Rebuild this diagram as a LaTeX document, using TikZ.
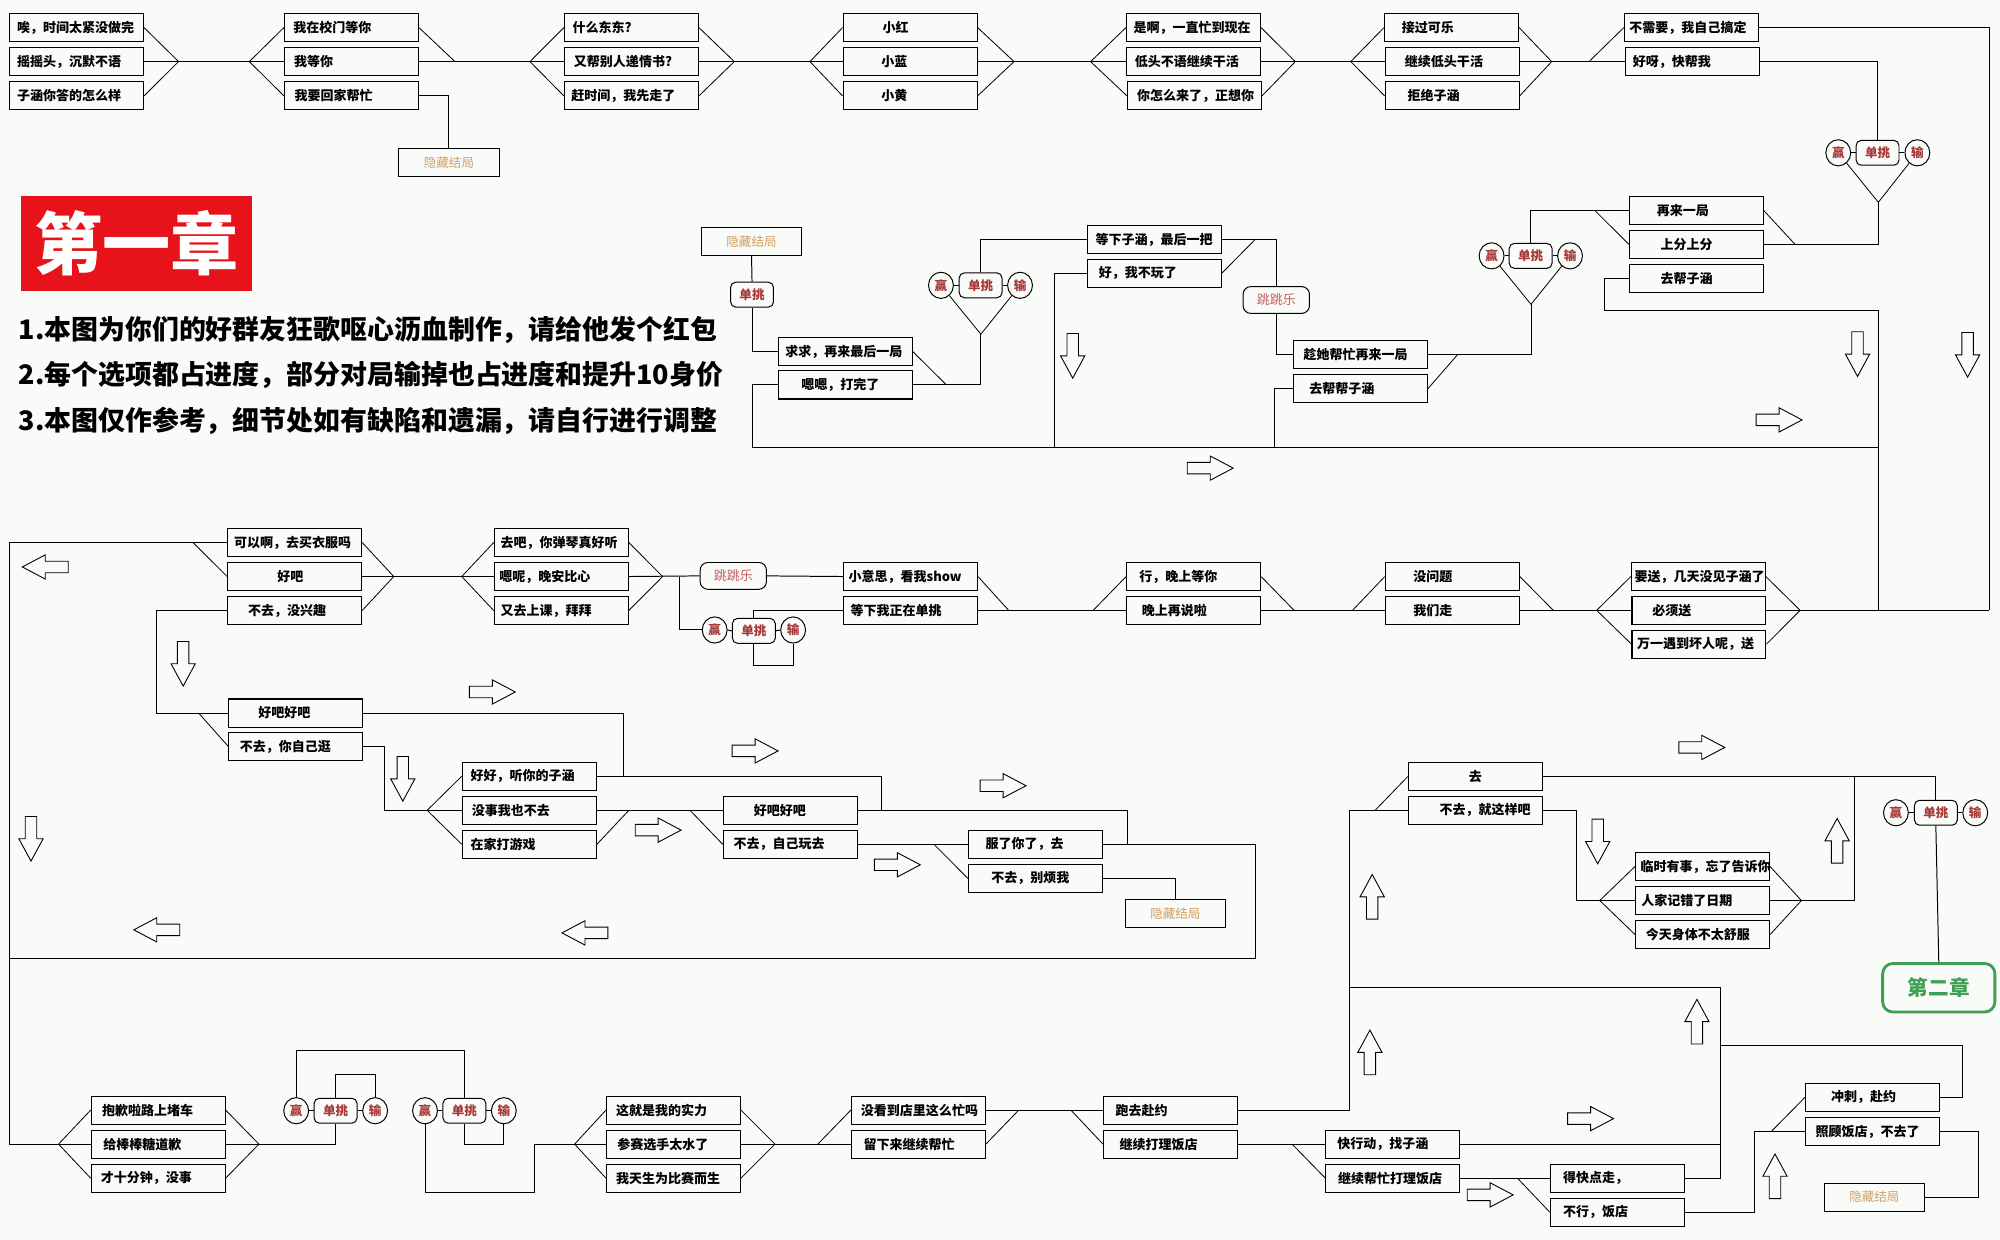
\documentclass[tikz,border=0pt]{standalone}
\usepackage{fontspec}
\newfontfamily\zh{Noto Sans CJK SC}
\newlength\ux \setlength\ux{0.025cm}
\newlength\bw \setlength\bw{105\ux}
\newcommand\ob[2]{\makebox[\bw][l]{\hspace*{#1\ux}#2}}
\newcommand\oc[1]{\makebox[\bw][c]{#1}}
\definecolor{bg}{HTML}{F8FBF8}
\definecolor{hidc}{HTML}{D4A062}
\definecolor{dtc}{HTML}{A83838}
\definecolor{jpc}{HTML}{C85C5C}
\definecolor{titred}{HTML}{E8121B}
\definecolor{grn}{HTML}{3FA055}
\tikzset{
  ln/.style={line width=0.55pt, black},
  fn/.style={line width=0.45pt, black},
  opt/.style={draw, line width=0.6pt, inner sep=0pt, minimum height=22\ux, fill=bg, font=\zh\bfseries\fontsize{7.25}{8}\selectfont},
  hid/.style={draw, line width=0.6pt, inner sep=0pt, minimum height=22\ux, minimum width=78.5\ux, fill=bg, text=hidc, font=\zh\fontsize{7}{8}\selectfont},
  dt/.style={draw, line width=0.55pt, rounded corners=4\ux, inner sep=0pt, minimum width=33.6\ux, minimum height=19.5\ux, fill=bg, text=dtc, font=\zh\bfseries\fontsize{7}{8}\selectfont},
  wl/.style={draw, line width=0.55pt, ellipse, inner sep=0pt, minimum width=19.5\ux, minimum height=20.5\ux, fill=bg, text=dtc, font=\zh\bfseries\fontsize{7}{8}\selectfont},
  jp/.style={draw, line width=0.55pt, rounded corners=6\ux, inner sep=0pt, minimum width=52\ux, minimum height=21\ux, fill=bg, text=jpc, font=\zh\fontsize{7.25}{8}\selectfont},
  chtwo/.style={draw=grn, line width=1.6pt, rounded corners=8\ux, minimum width=88\ux, minimum height=38\ux, inner sep=0pt, text=grn, fill=bg, font=\zh\bfseries\fontsize{11.5}{13}\selectfont},
  ins/.style={anchor=west, inner sep=0pt, font=\zh\bfseries\fontsize{15}{18}\selectfont},
  blk/.style={draw, line width=0.5pt, fill=bg},
  rarr/.pic={\path[blk] (-18,-4.5) -- (0,-4.5) -- (0,-9.5) -- (18,0) -- (0,9.5) -- (0,4.5) -- (-18,4.5) -- cycle;},
  larr/.pic={\path[blk] (18,-4.5) -- (0,-4.5) -- (0,-9.5) -- (-18,0) -- (0,9.5) -- (0,4.5) -- (18,4.5) -- cycle;},
  darr/.pic={\path[blk] (-4.5,-17.5) -- (-4.5,0) -- (-9.5,0) -- (0,17.5) -- (9.5,0) -- (4.5,0) -- (4.5,-17.5) -- cycle;},
  uarr/.pic={\path[blk] (-4.5,17.5) -- (-4.5,0) -- (-9.5,0) -- (0,-17.5) -- (9.5,0) -- (4.5,0) -- (4.5,17.5) -- cycle;}
}
\usetikzlibrary{shapes.geometric}
\begin{document}
\begin{tikzpicture}[x=0.025cm, y=-0.025cm]
\useasboundingbox (0,0) rectangle (1568,972);
\fill[bg] (0,0) rectangle (1568,972);

% ---------- coordinates ----------
\coordinate (mA) at (140,48.3);
\coordinate (fB) at (195.5,48.3);
\coordinate (mB) at (356.7,48.3);
\coordinate (fC) at (415.5,48.3);
\coordinate (mC) at (575.7,48.3);
\coordinate (fD) at (635,48.3);
\coordinate (mD) at (795,48.3);
\coordinate (fE) at (855,48.3);
\coordinate (mE) at (1015.5,48.3);
\coordinate (fF) at (1059,48.3);
\coordinate (mF) at (1216.5,48.3);
\coordinate (fG) at (1245.8,48.3);
\coordinate (cR) at (1559.6,478.5);
\coordinate (tp1) at (1472.6,158.6);
\coordinate (dR) at (1407.3,191.6);
\coordinate (dR2) at (1250.5,165.2);
\coordinate (tp3) at (1200.3,238.6);
\coordinate (dQ) at (1142.6,278.2);
\coordinate (cRa) at (1257.8,218.2);
\coordinate (cRb) at (1257.8,243.8);
\coordinate (cRc) at (1472.6,243.8);
\coordinate (cRd) at (1472.6,478.5);
\coordinate (cB3) at (999,350.5);
\coordinate (dP) at (984,187.8);
\coordinate (cB2) at (826.6,350.5);
\coordinate (tp2) at (769,262);
\coordinate (dO) at (742,301.8);
\coordinate (cB0) at (589.8,350.5);
\coordinate (cB4) at (1472.6,350.5);
\coordinate (cL1) at (7.5,425.3);
\coordinate (cL2) at (7.5,897);
\coordinate (fZ) at (45.9,897);
\coordinate (dK) at (151.3,425.3);
\coordinate (mK) at (308.7,452);
\coordinate (fK2) at (362,452);
\coordinate (mK2) at (519.5,452);
\coordinate (cJ) at (532.4,452);
\coordinate (cLp) at (621.8,521.4);
\coordinate (dN) at (790.8,478.5);
\coordinate (fV) at (857.1,478.5);
\coordinate (dV) at (1014.5,478.5);
\coordinate (fW) at (1060.4,478.5);
\coordinate (dW) at (1217.8,478.5);
\coordinate (fX) at (1251.8,478.5);
\coordinate (mX) at (1411.3,478.5);
\coordinate (cY) at (122.4,559);
\coordinate (dY) at (155.7,559);
\coordinate (cY2) at (488.6,608.5);
\coordinate (cYa) at (301.6,635.3);
\coordinate (fZz) at (334.9,635.3);
\coordinate (cZ1) at (691.2,635.3);
\coordinate (dZ) at (493,635.3);
\coordinate (fU) at (541,635.3);
\coordinate (cU1) at (883.6,662);
\coordinate (fT) at (732.3,662);
\coordinate (cT1) at (984,751.3);
\coordinate (cT2) at (7.5,751.3);
\coordinate (cD1) at (1453.8,608.8);
\coordinate (mE2) at (1412.3,706);
\coordinate (cD2) at (1236.2,706);
\coordinate (fE2) at (1254.2,706);
\coordinate (cV) at (1057.7,870.3);
\coordinate (dD) at (1078.1,635.3);
\coordinate (mBZ) at (203,897);
\coordinate (cS6) at (294.1,842.2);
\coordinate (cS7) at (364.1,823.2);
\coordinate (cS7b) at (395,897.6);
\coordinate (cW7) at (418.9,934.7);
\coordinate (fCZ) at (450.5,897);
\coordinate (mCZ) at (607.6,897);
\coordinate (fDZ) at (641.2,897);
\coordinate (dDZ) at (798.7,870.3);
\coordinate (fEZ) at (839.6,870.3);
\coordinate (fFZ) at (1013,897);
\coordinate (cF1) at (1349,897);
\coordinate (cT) at (1057.7,774);
\coordinate (cU) at (1349,923.7);
\coordinate (fGZ) at (1189.7,923.7);
\coordinate (cG) at (1375.5,887.3);
\coordinate (dG) at (1388.5,887.3);
\coordinate (cH) at (1538.3,819.5);
\coordinate (cH2) at (1349,819.5);
\coordinate (cK) at (1551.2,938.5);

% ---------- title and notes ----------
\node[fill=titred, minimum width=181.6\ux, minimum height=74\ux, inner sep=0pt, text=white, font=\zh\bfseries\fontsize{38}{40}\selectfont] (ch1) at (107,191) {第一章};
\node[ins] (ins1) at (14.4,259) {1.本图为你们的好群友狂歌呕心沥血制作，请给他发个红包};
\node[ins] (ins2) at (14.4,294) {2.每个选项都占进度，部分对局输掉也占进度和提升10身价};
\node[ins] (ins3) at (14.4,330) {3.本图仅作参考，细节处如有缺陷和遗漏，请自行进行调整};

% ---------- row 1 ----------
\node[opt] (a1) at (60,21.6) {\ob{6}{唉，时间太紧没做完}};
\node[opt] (a2) at (60,48.3) {\ob{6}{摇摇头，沉默不语}};
\node[opt] (a3) at (60,75.2) {\ob{6}{子涵你答的怎么样}};
\node[opt] (b1) at (275.5,21.6) {\ob{7}{我在校门等你}};
\node[opt] (b2) at (275.5,48.3) {\ob{7.5}{我等你}};
\node[opt] (b3) at (275.5,75.2) {\ob{8}{我要回家帮忙}};
\node[hid] (h1) at (352,127.2) {隐藏结局};
\node[opt] (c1) at (495,21.6) {\ob{6.5}{什么东东?}};
\node[opt] (c2) at (495,48.3) {\ob{7.5}{又帮别人递情书?}};
\node[opt] (c3) at (495,75.2) {\ob{5.5}{赶时间，我先走了}};
\node[opt] (d1) at (713.5,21.6) {\ob{31}{小红}};
\node[opt] (d2) at (713.5,48.3) {\ob{30}{小蓝}};
\node[opt] (d3) at (713.5,75.2) {\ob{30}{小黄}};
\node[opt] (e1) at (935.7,21.6) {\ob{5.5}{是啊，一直忙到现在}};
\node[opt] (e2) at (935.7,48.3) {\ob{6.5}{低头不语继续干活}};
\node[opt] (e3) at (936.5,75.2) {\ob{7.5}{你怎么来了，正想你}};
\node[opt] (f1) at (1138,21.6) {\ob{13.5}{接过可乐}};
\node[opt] (f2) at (1138.5,48.3) {\ob{15.5}{继续低头干活}};
\node[opt] (f3) at (1138.5,75.2) {\ob{17.5}{拒绝子涵}};
\node[opt] (g1) at (1326,21.6) {\ob{4}{不需要，我自己搞定}};
\node[opt] (g2) at (1326.7,48.3) {\ob{6}{好呀，快帮我}};

% ---------- row 2 (upper) ----------
\node[hid] (h2) at (589.2,189.3) {隐藏结局};
\node[dt] (s0) at (589.6,231) {单挑};
\node[opt] (o1) at (662.7,275.6) {\ob{5.5}{求求，再来最后一局}};
\node[opt] (o2) at (662.7,301.8) {\ob{18}{嗯嗯，打完了}};
\node[wl] (w2) at (737.7,223.7) {赢};
\node[dt] (s2) at (768.8,223.7) {单挑};
\node[wl] (l2) at (799.7,223.7) {输};
\node[opt] (p1) at (905,187.8) {\ob{6.5}{等下子涵，最后一把}};
\node[opt] (p2) at (905,214.2) {\ob{9}{好，我不玩了}};
\node[jp] (j1) at (1000.6,235.2) {跳跳乐};
\node[opt] (q1) at (1066.5,278.2) {\ob{8}{趁她帮忙再来一局}};
\node[opt] (q2) at (1066.5,304.8) {\ob{12.5}{去帮帮子涵}};
\node[wl] (w3) at (1169.4,200.6) {赢};
\node[dt] (s3) at (1200,200.6) {单挑};
\node[wl] (l3) at (1230.9,200.6) {输};
\node[opt] (r1) at (1330,165.2) {\ob{21.5}{再来一局}};
\node[opt] (r2) at (1330,191.6) {\ob{24.5}{上分上分}};
\node[opt] (r3) at (1330,218.2) {\ob{24.5}{去帮子涵}};
\node[wl] (w1) at (1441.2,119.8) {赢};
\node[dt] (s1) at (1472,119.8) {单挑};
\node[wl] (l1) at (1503.2,119.8) {输};

% ---------- middle row ----------
\node[opt] (k1) at (231,425.3) {\ob{5}{可以啊，去买衣服吗}};
\node[opt] (k2) at (231,452) {\ob{39}{好吧}};
\node[opt] (k3) at (231,478.7) {\ob{16}{不去，没兴趣}};
\node[opt] (i1) at (440,425.3) {\ob{5}{去吧，你弹琴真好听}};
\node[opt] (i2) at (440,452) {\ob{4}{嗯呢，晚安比心}};
\node[opt] (i3) at (440,478.7) {\ob{5}{又去上课，拜拜}};
\node[jp] (j2) at (574.9,451.5) {跳跳乐};
\node[wl] (w4) at (560.3,493.9) {赢};
\node[dt] (s4) at (591,494.6) {单挑};
\node[wl] (l4) at (621.8,493.9) {输};
\node[opt] (n1) at (713.8,452) {\ob{4}{小意思，看我show}};
\node[opt] (n2) at (713.8,478.5) {\ob{5.5}{等下我正在单挑}};
\node[opt] (v1) at (935.8,452) {\ob{10}{行，晚上等你}};
\node[opt] (v2) at (935.8,478.5) {\ob{12}{晚上再说啦}};
\node[opt] (wq1) at (1138.6,452) {\ob{22}{没问题}};
\node[opt] (wq2) at (1138.6,478.5) {\ob{22}{我们走}};
\node[opt] (x1) at (1331.5,452) {\ob{2.5}{要送，几天没见子涵了}};
\node[opt] (x2) at (1332,478.5) {\ob{16}{必须送}};
\node[opt] (x3) at (1332,505) {\ob{4}{万一遇到坏人呢，送}};

% ---------- lower middle ----------
\node[opt] (y1) at (232,559) {\ob{23}{好吧好吧}};
\node[opt] (y2) at (232,585.3) {\ob{8.5}{不去，你自己逛}};
\node[opt] (z1) at (415,608.5) {\ob{6.5}{好好，听你的子涵}};
\node[opt] (z2) at (415,635.3) {\ob{7.5}{没事我也不去}};
\node[opt] (z3) at (415,662) {\ob{6.5}{在家打游戏}};
\node[opt] (u1) at (619.6,635.3) {\ob{24}{好吧好吧}};
\node[opt] (u2) at (619.6,662) {\ob{8}{不去，自己玩去}};
\node[opt] (t1) at (811.7,662) {\ob{13.5}{服了你了，去}};
\node[opt] (t2) at (811.7,688.6) {\ob{18}{不去，别烦我}};
\node[hid] (h3) at (921.5,716) {隐藏结局};
\node[opt] (dd1) at (1156.6,608.8) {\oc{去}};
\node[opt] (dd2) at (1156.6,635.3) {\ob{24.5}{不去，就这样吧}};
\node[opt] (e21) at (1334.8,679.3) {\ob{4}{临时有事，忘了告诉你}};
\node[opt] (e22) at (1334.8,706) {\ob{4.5}{人家记错了日期}};
\node[opt] (e23) at (1334.8,732.7) {\ob{8}{今天身体不太舒服}};
\node[wl] (w5) at (1486.4,637.2) {赢};
\node[dt] (s5) at (1517.7,637.2) {单挑};
\node[wl] (l5) at (1548.6,637.2) {输};
\node[chtwo] (ch2) at (1520,774.4) {第二章};

% ---------- bottom row ----------
\node[opt] (bz1) at (124,870.3) {\ob{8.5}{抱歉啦路上堵车}};
\node[opt] (bz2) at (124,897) {\ob{9.5}{给棒棒糖道歉}};
\node[opt] (bz3) at (124,923.7) {\ob{7.5}{才十分钟，没事}};
\node[wl] (w6) at (232.2,870.8) {赢};
\node[dt] (s6) at (263.1,870.8) {单挑};
\node[wl] (l6) at (294.1,870.8) {输};
\node[wl] (w7) at (333.2,870.8) {赢};
\node[dt] (s7) at (364.1,870.8) {单挑};
\node[wl] (l7) at (395,870.8) {输};
\node[opt] (cz1) at (528,870.3) {\ob{7.5}{这就是我的实力}};
\node[opt] (cz2) at (528,897) {\ob{8.5}{参赛选手太水了}};
\node[opt] (cz3) at (528,923.7) {\ob{7.5}{我天生为比赛而生}};
\node[opt] (dz1) at (720,870.3) {\ob{7.5}{没看到店里这么忙吗}};
\node[opt] (dz2) at (720,897) {\ob{9.5}{留下来继续帮忙}};
\node[opt] (ez1) at (917.7,870.3) {\ob{9.5}{跑去赴约}};
\node[opt] (ez2) at (917.7,897) {\ob{12.5}{继续打理饭店}};
\node[opt] (fz1) at (1092,897) {\ob{9}{快行动，找子涵}};
\node[opt] (fz2) at (1092,923.7) {\ob{9.5}{继续帮忙打理饭店}};
\node[opt] (gz1) at (1268,923.7) {\ob{10}{得快点走，}};
\node[opt] (gz2) at (1268,950.4) {\ob{10}{不行，饭店}};
\node[opt] (hz1) at (1468,860.3) {\ob{20}{冲刺，赴约}};
\node[opt] (hz2) at (1468,887.3) {\ob{8}{照顾饭店，不去了}};
\node[hid] (h4) at (1469.5,938.5) {隐藏结局};

% ---------- connectors: row 1 ----------
\draw[fn] (a1.east) -- (mA) -- (a3.east);
\draw[ln] (a2.east) -- (b2.west);
\draw[fn] (b1.west) -- (fB) -- (b3.west);
\draw[fn] (b1.east) -- (mB);
\draw[ln] (b2.east) -- (c2.west);
\draw[ln] (b3.east) -| (h1.north);
\draw[fn] (c1.west) -- (fC) -- (c3.west);
\draw[fn] (c1.east) -- (mC) -- (c3.east);
\draw[ln] (c2.east) -- (d2.west);
\draw[fn] (d1.west) -- (fD) -- (d3.west);
\draw[fn] (d1.east) -- (mD) -- (d3.east);
\draw[ln] (d2.east) -- (e2.west);
\draw[fn] (e1.west) -- (fE) -- (e3.west);
\draw[fn] (e1.east) -- (mE) -- (e3.east);
\draw[ln] (e2.east) -- (f2.west);
\draw[fn] (f1.west) -- (fF) -- (f3.west);
\draw[fn] (f1.east) -- (mF) -- (f3.east);
\draw[ln] (f2.east) -- (g2.west);
\draw[fn] (fG) -- (g1.west);
\draw[ln] (g1.east) -| (cR);
\draw[ln] (g2.east) -| (s1.north);
\draw[fn] (w1) -- (tp1) -- (l1);
\draw[ln] (w1.east) -- (s1.west) (s1.east) -- (l1.west);
\draw[ln] (tp1) |- (r2.east);
\draw[fn] (r1.east) -- (dR);
\draw[ln] (r1.west) -| (s3.north);
\draw[fn] (r2.west) -- (dR2);
\draw[fn] (w3) -- (tp3) -- (l3);
\draw[ln] (w3.east) -- (s3.west) (s3.east) -- (l3.west);
\draw[ln] (tp3) |- (q1.east);
\draw[fn] (q2.east) -- (dQ);
\draw[ln] (r3.west) -- (cRa) -- (cRb) -- (cRc) -- (cRd);
\draw[ln] (q1.west) -| (j1.south);
\draw[ln] (q2.west) -| (cB3);
\draw[ln] (p1.east) -| (j1.north);
\draw[fn] (p2.east) -- (dP);
\draw[ln] (p2.west) -| (cB2);
\draw[ln] (s2.north) |- (p1.west);
\draw[fn] (w2) -- (tp2) -- (l2);
\draw[ln] (w2.east) -- (s2.west) (s2.east) -- (l2.west);
\draw[ln] (tp2) |- (o2.east);
\draw[fn] (o1.east) -- (dO);
\draw[ln] (h2.south) -- (s0.north);
\draw[ln] (s0.south) |- (o1.west);
\draw[ln] (o2.west) -| (cB0) -- (cB4);

% ---------- connectors: middle row ----------
\draw[ln] (k1.west) -- (cL1) -- (cL2) -- (bz2.west);
\draw[fn] (k2.west) -- (dK);
\draw[fn] (k1.east) -- (mK) -- (k3.east);
\draw[ln] (k2.east) -- (i2.west);
\draw[fn] (i1.west) -- (fK2) -- (i3.west);
\draw[fn] (i1.east) -- (mK2) -- (i3.east);
\draw[ln] (i2.east) -- (j2.west);
\draw[ln] (j2.east) -- (n1.west);
\draw[ln] (cJ) |- (w4.west);
\draw[ln] (w4.east) -- (s4.west) (s4.east) -- (l4.west);
\draw[ln] (s4.north) |- (n2.west);
\draw[ln] (s4.south) |- (cLp) -- (l4.south);
\draw[fn] (n1.east) -- (dN);
\draw[ln] (n2.east) -- (v2.west);
\draw[fn] (fV) -- (v1.west);
\draw[fn] (v1.east) -- (dV);
\draw[ln] (v2.east) -- (wq2.west);
\draw[fn] (fW) -- (wq1.west);
\draw[fn] (wq1.east) -- (dW);
\draw[ln] (wq2.east) -- (x2.west);
\draw[fn] (fX) -- (x1.west);
\draw[fn] (fX) -- (x3.west);
\draw[fn] (x1.east) -- (mX) -- (x3.east);
\draw[ln] (x2.east) -- (cR);

% ---------- connectors: lower middle ----------
\draw[ln] (k3.west) -| (cY) -- (y1.west);
\draw[fn] (y2.west) -- (dY);
\draw[ln] (y1.east) -| (cY2);
\draw[ln] (y2.east) -| (cYa) -- (fZz);
\draw[fn] (fZz) -- (z1.west);
\draw[ln] (fZz) -- (z2.west);
\draw[fn] (fZz) -- (z3.west);
\draw[ln] (z1.east) -| (cZ1);
\draw[ln] (z2.east) -- (u1.west);
\draw[fn] (z3.east) -- (dZ);
\draw[fn] (fU) -- (u2.west);
\draw[ln] (u1.east) -| (cU1);
\draw[ln] (u2.east) -- (t1.west);
\draw[fn] (fT) -- (t2.west);
\draw[ln] (t1.east) -| (cT1) -- (cT2);
\draw[ln] (t2.east) -| (h3.north);
\draw[ln] (dd1.east) -| (s5.north);
\draw[ln] (cD1) |- (mE2);
\draw[fn] (e21.east) -- (mE2) -- (e23.east);
\draw[ln] (e22.east) -- (mE2);
\draw[ln] (dd2.east) -| (cD2) -- (e22.west);
\draw[fn] (fE2) -- (e21.west);
\draw[fn] (fE2) -- (e23.west);
\draw[ln] (dd2.west) -| (cV) -- (ez1.east);
\draw[fn] (dD) -- (dd1.west);
\draw[ln] (w5.east) -- (s5.west) (s5.east) -- (l5.west);
\draw[ln] (s5.south) -- (ch2.north);

% ---------- connectors: bottom row ----------
\draw[fn] (fZ) -- (bz1.west);
\draw[fn] (fZ) -- (bz3.west);
\draw[fn] (bz1.east) -- (mBZ) -- (bz3.east);
\draw[ln] (bz2.east) -| (s6.south);
\draw[ln] (w6.east) -- (s6.west) (s6.east) -- (l6.west);
\draw[ln] (s6.north) |- (cS6) -- (l6.north);
\draw[ln] (w6.north) |- (cS7) -- (s7.north);
\draw[ln] (w7.east) -- (s7.west) (s7.east) -- (l7.west);
\draw[ln] (s7.south) |- (cS7b) -- (l7.south);
\draw[ln] (w7.south) |- (cW7) |- (cz2.west);
\draw[fn] (fCZ) -- (cz1.west);
\draw[fn] (fCZ) -- (cz3.west);
\draw[fn] (cz1.east) -- (mCZ) -- (cz3.east);
\draw[ln] (cz2.east) -- (dz2.west);
\draw[fn] (fDZ) -- (dz1.west);
\draw[ln] (dz1.east) -- (ez1.west);
\draw[fn] (dz2.east) -- (dDZ);
\draw[fn] (fEZ) -- (ez2.west);
\draw[ln] (ez2.east) -- (fz1.west);
\draw[fn] (fFZ) -- (fz2.west);
\draw[ln] (fz1.east) -- (cF1);
\draw[ln] (cT) -| (cU);
\draw[ln] (fz2.east) -- (gz1.west);
\draw[fn] (fGZ) -- (gz2.west);
\draw[ln] (gz1.east) -- (cU);
\draw[ln] (gz2.east) -| (cG) -- (hz2.west);
\draw[fn] (dG) -- (hz1.west);
\draw[ln] (hz1.east) -| (cH) -- (cH2);
\draw[ln] (hz2.east) -| (cK) -- (h4.east);

% ---------- hollow arrows ----------
\pic at (948.8,367) {rarr};
\pic at (1394.8,329.2) {rarr};
\pic at (386,542.5) {rarr};
\pic at (592,588.7) {rarr};
\pic at (786.4,616) {rarr};
\pic at (516,650.8) {rarr};
\pic at (703.5,678) {rarr};
\pic at (1334.2,586) {rarr};
\pic at (1247,877) {rarr};
\pic at (1168.3,936.8) {rarr};
\pic at (35.5,444.5) {larr};
\pic at (122.9,729) {larr};
\pic at (458.6,731.4) {larr};
\pic at (841,279) {darr};
\pic at (1456.3,277.6) {darr};
\pic at (1542.6,278.2) {darr};
\pic at (143.6,520.4) {darr};
\pic at (315.8,610.6) {darr};
\pic at (24.3,657.6) {darr};
\pic at (1252.6,659.7) {darr};
\pic at (1440.3,659.2) {uarr};
\pic at (1075.8,703.1) {uarr};
\pic at (1074,825.1) {uarr};
\pic at (1330.4,801) {uarr};
\pic at (1391.6,922.2) {uarr};
\end{tikzpicture}
\end{document}
